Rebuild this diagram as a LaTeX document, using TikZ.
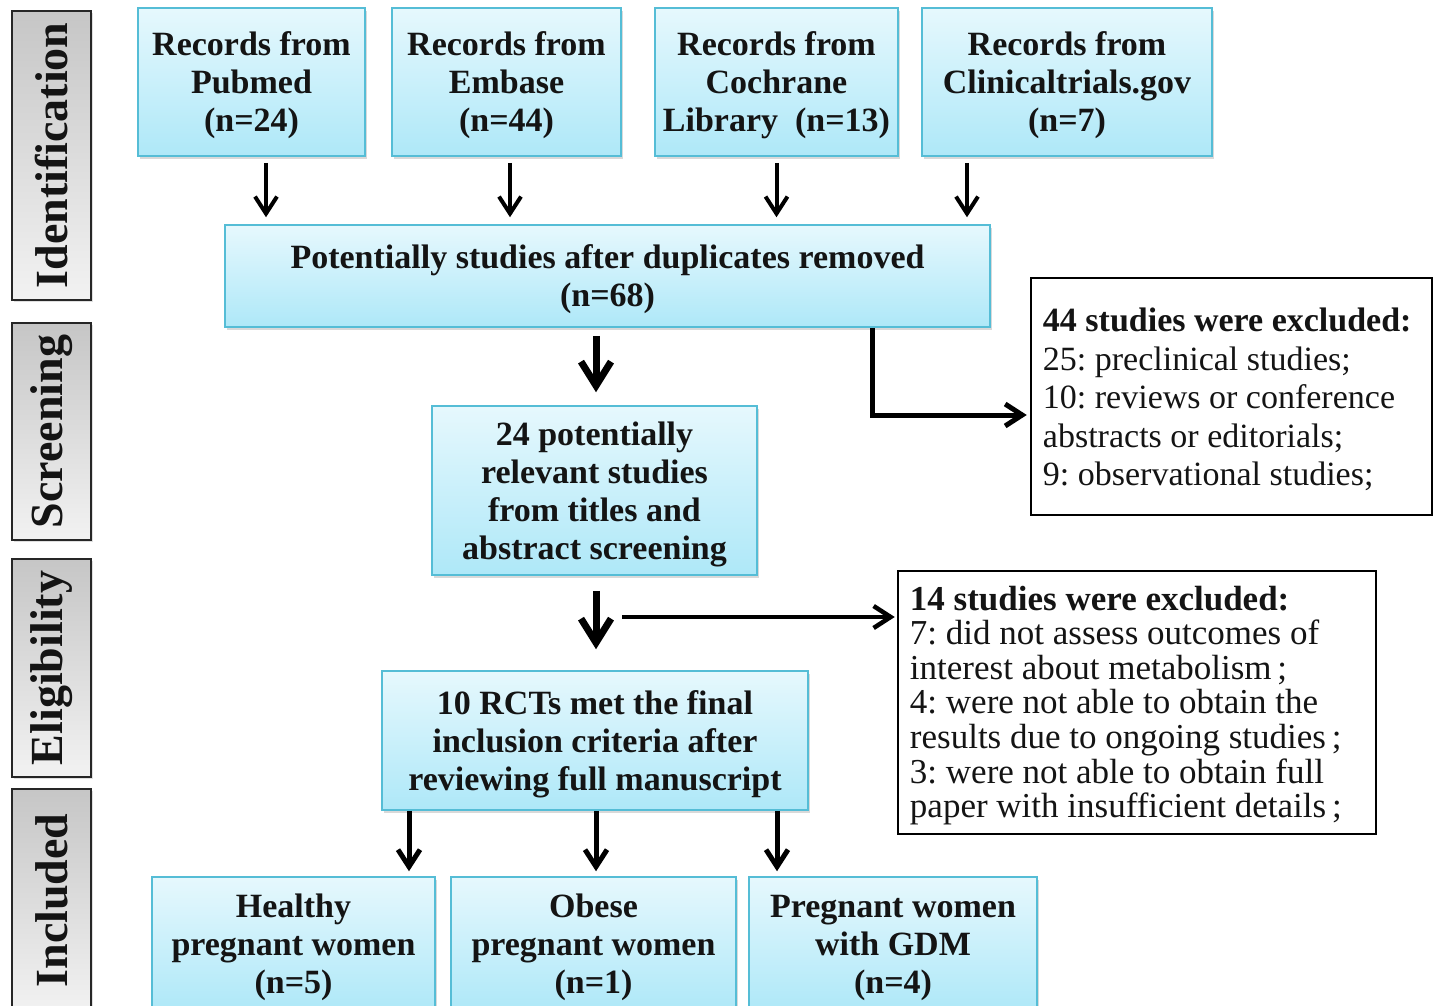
\documentclass[tikz,border=0pt]{standalone}
\usepackage{fontspec}
\setmainfont{Liberation Serif}
\usetikzlibrary{arrows.meta,shadows,calc}
\definecolor{bluetop}{HTML}{E6F8FD}
\definecolor{bluebot}{HTML}{AEE8F8}
\definecolor{blueborder}{HTML}{55BDD6}
\definecolor{graytop}{HTML}{C6C6C6}
\definecolor{graybot}{HTML}{F2F2F2}
\definecolor{textc}{HTML}{141414}
\frenchspacing
\begin{document}
\begin{tikzpicture}[x=1pt,y=-1pt,
  bluebox/.style={draw=blueborder, line width=1.5pt, top color=bluetop, bottom color=bluebot,
    drop shadow={shadow xshift=2pt, shadow yshift=-3pt, opacity=0.3},
    font=\fontsize{34}{38}\bfseries\selectfont, align=center, text=textc, inner sep=0pt, text depth=0pt},
  exbox/.style={draw=black, line width=2.5pt, fill=white, inner sep=0pt},
  extext/.style={align=left, text=textc, inner sep=0pt},
  sidebox/.style={draw=black!85, line width=2pt, top color=graytop, bottom color=graybot,
    drop shadow={shadow xshift=2pt, shadow yshift=-2pt, opacity=0.25},
    minimum width=79pt, inner sep=0pt},
  sidetext/.style={rotate=90, font=\fontsize{46}{46}\bfseries\selectfont, text=textc, inner sep=0pt},
  arrT/.style={line width=4pt, -{Straight Barb[length=17pt,width=22pt]}},
  arrB/.style={line width=7pt, -{Straight Barb[length=24pt,width=30pt]}},
  arrM/.style={line width=5pt, -{Straight Barb[length=17pt,width=22pt]}},
]
\useasboundingbox (0,0) rectangle (1437,1006);
\clip (0,0) rectangle (1437,1006);

% side labels
\node[sidebox, minimum height=289pt] (sid) at (51.5,155.5) {};
\node[sidetext] (sidt) at (sid) {Identification};
\node[sidebox, minimum height=217pt] (ssc) at (51.5,431.5) {};
\node[sidetext] (ssct) at (ssc) {Screening};
\node[sidebox, minimum height=218pt] (sel) at (51.5,668) {};
\node[sidetext] (selt) at (sel) {Eligibility};
\node[sidebox, minimum height=223pt] (sin) at (51.5,900.5) {};
\node[sidetext] (sint) at (sin) {Included};

% top row
\node[bluebox, minimum width=227pt, minimum height=148pt] (pub) at (251.5,82) {Records from\\Pubmed\\(n=24)};
\node[bluebox, minimum width=229pt, minimum height=148pt] (emb) at (506.5,82) {Records from\\Embase\\(n=44)};
\node[bluebox, minimum width=243pt, minimum height=148pt] (coc) at (776.5,82) {Records from\\Cochrane\\Library\hspace{0.5em}(n=13)};
\node[bluebox, minimum width=290pt, minimum height=148pt] (cli) at (1067,82) {Records from\\Clinicaltrials.gov\\(n=7)};

\node[bluebox, minimum width=765pt, minimum height=102pt] (pot) at (607.5,276) {Potentially studies after duplicates removed\\(n=68)};
\node[bluebox, minimum width=325pt, minimum height=169pt] (b24) at (594.5,490.5) {24 potentially\\relevant studies\\from titles and\\abstract screening};
\node[bluebox, minimum width=426pt, minimum height=139pt] (rct) at (595,740.5) {10 RCTs met the final\\inclusion criteria after\\reviewing full manuscript};

\node[bluebox, minimum width=283pt, minimum height=134pt] (hea) at (293.5,944) {Healthy\\pregnant women\\(n=5)};
\node[bluebox, minimum width=285pt, minimum height=134pt] (obe) at (593.5,944) {Obese\\pregnant women\\(n=1)};
\node[bluebox, minimum width=288pt, minimum height=134pt] (gdm) at (893,944) {Pregnant women\\with GDM\\(n=4)};

% exclusion boxes
\node[exbox, minimum width=401pt, minimum height=237pt] (ex1) at (1231.5,396.5) {};
\node[extext, font=\fontsize{34}{38.5}\selectfont, anchor=west] (ex1t) at ($(ex1.west)+(13,3)$)
  {\textbf{44 studies were excluded:}\\25: preclinical studies;\\10: reviews or conference\\abstracts or editorials;\\9: observational studies;};
\node[exbox, minimum width=478pt, minimum height=263pt] (ex2) at (1137,702.5) {};
\node[extext, font=\fontsize{35}{34.6}\selectfont, anchor=west] (ex2t) at ($(ex2.west)+(13,3)$)
  {\textbf{14 studies were excluded:}\\7: did not assess outcomes of\\interest about metabolism\,;\\4: were not able to obtain the\\results due to ongoing studies\,;\\3: were not able to obtain full\\paper with insufficient details\,;};

% arrows top row
\draw[arrT] ($(pub.south)+(14.5,6)$) -- ($(pub.south |- pot.north)+(14.5,-7)$);
\draw[arrT] ($(emb.south)+(3.5,6)$) -- ($(emb.south |- pot.north)+(3.5,-7)$);
\draw[arrT] ($(coc.south)+(0,6)$) -- ($(coc.south |- pot.north)+(0,-7)$);
\draw[arrT] ($(cli.south)+(-100,6)$) -- ($(cli.south |- pot.north)+(-100,-7)$);

% main flow
\draw[arrB] ($(pot.south -| b24.north)+(1.5,8)$) -- ($(b24.north)+(1.5,-13)$);
\draw[arrB] ($(b24.south -| rct.north)+(1,15)$) -- ($(rct.north)+(1,-21)$);

% exclusions
\draw[arrM] ($(pot.south)+(264.5,0)$) |- ($(ex1.west)+(-3,18.5)$);
\coordinate (h1) at (622,617);
\draw[line width=4.5pt, -{Straight Barb[length=17pt,width=22pt]}] (h1) -- ($(h1 -| ex2.west)+(-2,0)$);

% bottom arrows
\draw[arrM] ($(rct.south)+(-186,0)$) -- ($(rct.south |- hea.north)+(-186,-5)$);
\draw[arrM] ($(rct.south)+(1,0)$) -- ($(rct.south |- obe.north)+(1,-5)$);
\draw[arrM] ($(rct.south)+(182,0)$) -- ($(rct.south |- gdm.north)+(182,-5)$);
\end{tikzpicture}
\end{document}
